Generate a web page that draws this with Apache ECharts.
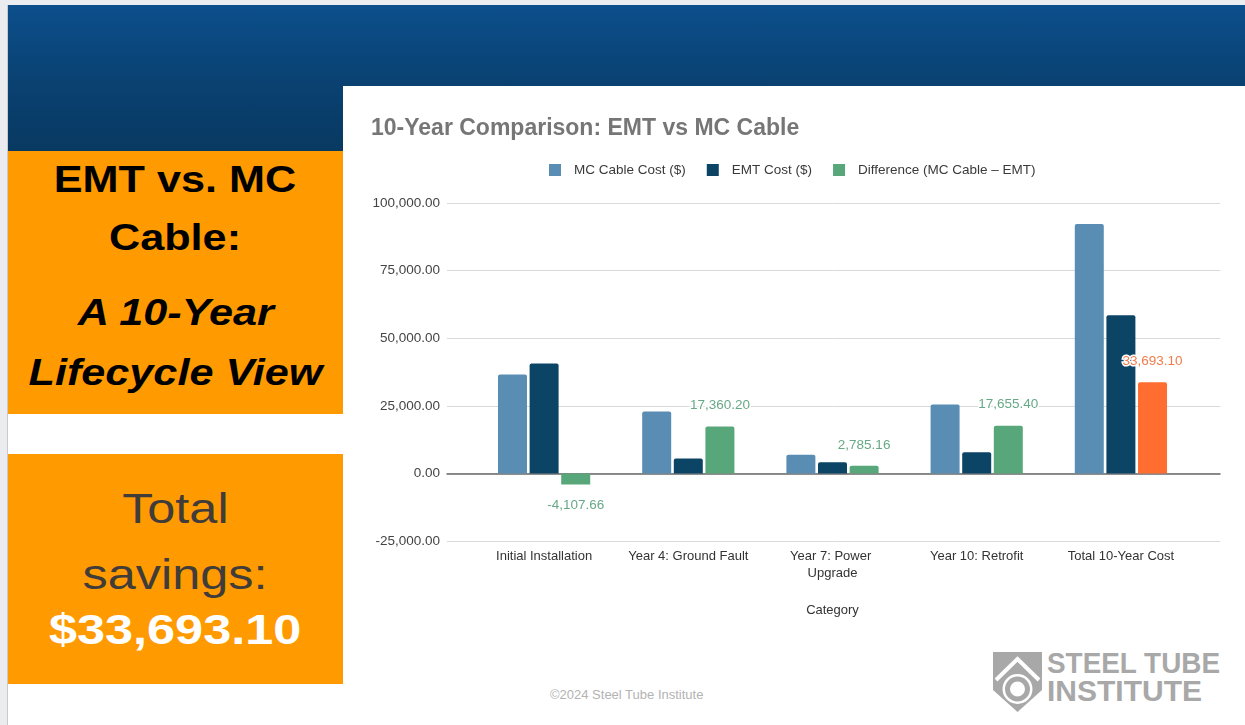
<!DOCTYPE html>
<html>
<head>
<meta charset="utf-8">
<script src="https://cdn.jsdelivr.net/npm/echarts@6/dist/echarts.min.js"></script>
<style>
  html, body { margin: 0; padding: 0; width: 1245px; height: 725px; overflow: hidden; background: #ebecef; font-family: "Liberation Sans", Arial, sans-serif; }
  #slide { position: absolute; left: 7px; top: 5px; width: 1238px; height: 720px; background: #ffffff; border-left: 1px solid #c9c9c9; }
  #band { position: absolute; left: 8px; top: 5px; width: 1237px; height: 147px; background: linear-gradient(to bottom, #0c4f8c 0%, #0a4273 50%, #083961 100%); }
  #panel { position: absolute; left: 343px; top: 86px; width: 902px; height: 639px; background: #ffffff; }
  .box { position: absolute; left: 8px; width: 335px; background: #ff9a00; }
  .line { position: absolute; left: 0; width: 335px; text-align: center; white-space: nowrap; }
  .line span { display: inline-block; transform: scaleX(1.2); transform-origin: center; }
  #chart { position: absolute; left: 0; top: 0; width: 1245px; height: 725px; }
  #footer { position: absolute; left: 550px; top: 687px; font-size: 13px; color: #b3b3b3; white-space: nowrap; }
</style>
</head>
<body>
<div id="slide"></div>
<div id="band"></div>
<div id="panel"></div>

<div class="box" style="top:151px;height:263px;">
  <div class="line" style="top:5px;font-size:36px;font-weight:bold;color:#000;line-height:48px;"><span>EMT vs. MC</span></div>
  <div class="line" style="top:63px;font-size:36px;font-weight:bold;color:#000;line-height:48px;"><span>Cable:</span></div>
  <div class="line" style="top:138px;font-size:36px;font-weight:bold;font-style:italic;color:#000;line-height:48px;"><span>A 10-Year</span></div>
  <div class="line" style="top:198px;font-size:36px;font-weight:bold;font-style:italic;color:#000;line-height:48px;"><span>Lifecycle View</span></div>
</div>

<div class="box" style="top:454px;height:230px;">
  <div class="line" style="top:28px;font-size:42px;color:#3f3c3a;line-height:54px;"><span>Total</span></div>
  <div class="line" style="top:94px;font-size:42px;color:#3f3c3a;line-height:54px;"><span>savings:</span></div>
  <div class="line" style="top:149px;font-size:42px;font-weight:bold;color:#ffffff;line-height:54px;"><span>$33,693.10</span></div>
</div>

<div id="footer">©2024 Steel Tube Institute</div>

<svg style="position:absolute;left:980px;top:640px;" width="265" height="80" viewBox="980 640 265 80">
  <polygon points="993,652 1042,652 1042,690 1017.5,712 993,690" fill="#a8a8a8"/>
  <polyline points="996,680 1017.5,659 1039,680" fill="none" stroke="#ffffff" stroke-width="4"/>
  <circle cx="1017.5" cy="689" r="15" fill="#ffffff"/>
  <circle cx="1017.5" cy="689" r="10" fill="none" stroke="#a8a8a8" stroke-width="5"/>
  <text x="1047" y="673" font-family="Liberation Sans, Arial" font-weight="bold" font-size="30" fill="#a8a8a8" textLength="173" lengthAdjust="spacingAndGlyphs">STEEL TUBE</text>
  <text x="1047" y="701" font-family="Liberation Sans, Arial" font-weight="bold" font-size="30" fill="#a8a8a8" textLength="155" lengthAdjust="spacingAndGlyphs">INSTITUTE</text>
</svg>

<div id="chart"></div>

<script>
// ---- Data ----
const categories = ['Initial Installation', 'Year 4: Ground Fault', 'Year 7: Power Upgrade', 'Year 10: Retrofit', 'Total 10-Year Cost'];
const mcCableCost = [36550, 22900, 6900, 25500, 92200];
const emtCost = [40657.66, 5540, 4114.84, 7844.60, 58506.90];
const difference = [-4107.66, 17360.20, 2785.16, 17655.40, 33693.10];
const seriesNames = ['MC Cable Cost ($)', 'EMT Cost ($)', 'Difference (MC Cable – EMT)'];
const yMin = -25000, yMax = 100000, yInterval = 25000;
const highlightIndex = 4;

// ---- Styles ----
const FONT = '"Liberation Sans", Arial, sans-serif';
const cMC = '#5a8db4', cEMT = '#0c4466', cDiff = '#58a77a', cHi = '#ff6d31';
const fmt = v => v.toLocaleString('en-US', { minimumFractionDigits: 2, maximumFractionDigits: 2 });

const diffData = difference.map((v, i) => {
  const isHi = i === highlightIndex;
  return {
    value: v,
    itemStyle: isHi ? { color: cHi } : undefined,
    label: {
      position: v < 0 ? 'bottom' : 'top',
      color: isHi ? '#f07d4c' : '#67a987'
    }
  };
});

const chart = echarts.init(document.getElementById('chart'), null, { renderer: 'canvas' });
chart.setOption({
  backgroundColor: 'transparent',
  animation: false,
  title: {
    text: '10-Year Comparison: EMT vs MC Cable',
    left: 371, top: 117, padding: 0,
    textStyle: { fontFamily: FONT, fontSize: 23, fontWeight: 'bold', color: '#767676' }
  },
  legend: {
    left: 549, top: 163, padding: 0,
    itemWidth: 12, itemHeight: 12, itemGap: 21,
    icon: 'rect',
    textStyle: { fontFamily: FONT, fontSize: 13.5, color: '#3a3a3a', padding: [0, 0, 0, 8] },
    data: seriesNames
  },
  grid: [
    { left: 447, right: 25, top: 203, bottom: 184 },
    { left: 472, right: 52, top: 203, bottom: 184 }
  ],
  xAxis: [
    {
      gridIndex: 0, type: 'value', min: 0, max: 1,
      axisLabel: { show: false }, axisTick: { show: false }, splitLine: { show: false },
      axisLine: { show: true, onZero: true, lineStyle: { color: '#6a6a6a', width: 1.5 } }
    },
    {
      gridIndex: 1, type: 'category', data: categories,
      axisLine: { show: false }, axisTick: { show: false },
      axisLabel: {
        fontFamily: FONT, fontSize: 13, color: '#333', margin: 7,
        width: 132, overflow: 'break', lineHeight: 17, interval: 0
      },
      name: 'Category', nameLocation: 'middle', nameGap: 63,
      nameTextStyle: { fontFamily: FONT, fontSize: 13, color: '#333' }
    }
  ],
  yAxis: [
    {
      gridIndex: 0, type: 'value', min: yMin, max: yMax, interval: yInterval,
      axisLine: { show: false }, axisTick: { show: false },
      axisLabel: { fontFamily: FONT, fontSize: 13.5, color: '#444', margin: 7, formatter: v => fmt(v) },
      splitLine: { show: true, lineStyle: { color: '#d9d9d9', width: 1 } }
    },
    {
      gridIndex: 1, type: 'value', min: yMin, max: yMax, interval: yInterval, show: false,
      splitLine: { show: false }
    }
  ],
  series: [
    {
      name: seriesNames[0], type: 'bar', xAxisIndex: 1, yAxisIndex: 1,
      data: mcCableCost, barWidth: 29, barGap: '9%',
      itemStyle: { color: cMC, borderRadius: [2, 2, 0, 0] }
    },
    {
      name: seriesNames[1], type: 'bar', xAxisIndex: 1, yAxisIndex: 1,
      data: emtCost, barWidth: 29, barGap: '9%',
      itemStyle: { color: cEMT, borderRadius: [2, 2, 0, 0] }
    },
    {
      name: seriesNames[2], type: 'bar', xAxisIndex: 1, yAxisIndex: 1,
      data: diffData, barWidth: 29, barGap: '9%',
      itemStyle: { color: cDiff, borderRadius: [2, 2, 0, 0] },
      label: {
        show: true, distance: 14, fontFamily: FONT, fontSize: 13.5,
        textBorderColor: '#ffffff', textBorderWidth: 3,
        formatter: p => fmt(p.value)
      }
    }
  ]
});
</script>
</body>
</html>
